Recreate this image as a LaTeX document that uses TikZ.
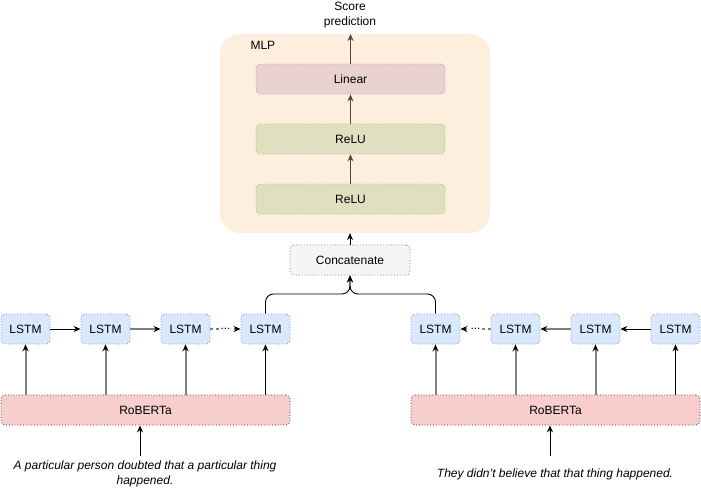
\documentclass[tikz,border=0pt]{standalone}
\usepackage{fontspec}
\setmainfont{Liberation Sans}
\usetikzlibrary{arrows.meta}

\definecolor{mlpfill}{RGB}{254,238,222}
\definecolor{linfill}{RGB}{233,209,208}
\definecolor{lindraw}{RGB}{196,140,170}
\definecolor{relufill}{RGB}{223,224,193}
\definecolor{reludraw}{RGB}{160,190,95}
\definecolor{lstmfill}{RGB}{218,232,252}
\definecolor{lstmdraw}{RGB}{108,142,191}
\definecolor{bertfill}{RGB}{248,206,204}
\definecolor{bertdraw}{RGB}{60,40,40}
\definecolor{catfill}{RGB}{245,245,245}
\definecolor{catdraw}{RGB}{110,110,110}
\definecolor{mlparrow}{RGB}{85,70,55}
\definecolor{grayarrow}{RGB}{128,128,128}

\tikzset{
  box/.style={rounded corners=4pt,dotted,thick,inner sep=0pt,align=center},
  thin arrow/.style={draw=black,line width=0.9pt,-{Stealth[length=7pt,width=6pt]}},
  thick arrow/.style={draw=grayarrow,line width=2pt,-{Stealth[length=7pt,width=6pt,color=black]}},
  mlp arrow/.style={draw=mlparrow,line width=0.9pt,-{Stealth[length=7pt,width=6pt]}},
}

\begin{document}
\begin{tikzpicture}[x=1pt,y=-1pt,font=\fontsize{12}{15}\selectfont]

      \useasboundingbox (0,0) rectangle (701,488);

      % MLP container
      \fill[mlpfill,rounded corners=20pt] (220,34) rectangle (490,233);
      \node[anchor=west] (mlp) at (247,45) {MLP};

      \node[align=center] (score) at (350,15) {Score\\prediction};
      \coordinate (top) at (350.5,34);

      \begin{scope}[every node/.style={box,minimum width=189pt,minimum height=30pt}]
        \node[fill=linfill,draw=lindraw] (lin) at (350.5,79) {Linear};
        \node[fill=relufill,draw=reludraw] (relu1) at (350.5,139) {ReLU};
        \node[fill=relufill,draw=reludraw] (relu2) at (350.5,199) {ReLU};
      \end{scope}

      \node[box,fill=catfill,draw=catdraw,minimum width=120pt,minimum height=30pt] (cat) at (350,260) {Concatenate};
      \coordinate (mlpin) at (350,233);

      \begin{scope}[every node/.style={box,fill=lstmfill,draw=lstmdraw,minimum width=49pt,minimum height=30pt}]
        \node (l1) at (25.5,329) {LSTM};
        \node (l2) at (105.5,329) {LSTM};
        \node (l3) at (185.5,329) {LSTM};
        \node (l4) at (265.5,329) {LSTM};
        \node (r1) at (435.5,329) {LSTM};
        \node (r2) at (515.5,329) {LSTM};
        \node (r3) at (595.5,329) {LSTM};
        \node (r4) at (675.5,329) {LSTM};
      \end{scope}

      \begin{scope}[every node/.style={box,fill=bertfill,draw=bertdraw,minimum width=289pt,minimum height=30pt}]
        \node (bl) at (145.5,410) {RoBERTa};
        \node (br) at (555.5,410) {RoBERTa};
      \end{scope}

      \begin{scope}[every node/.style={font=\fontsize{12}{15}\selectfont\itshape,align=center}]
        \node (sl) at (145,474) {A particular person doubted that a particular thing\\happened.};
        \node (sr) at (555,474) {They didn't believe that that thing happened.};
      \end{scope}
      \coordinate (inl) at (140,456);
      \coordinate (inr) at (550,456);

      % MLP arrows
      \draw[mlp arrow] (relu2.north) -- (relu1.south);
      \draw[mlp arrow] (relu1.north) -- (lin.south);
      \draw[mlp arrow] (lin.north) -- (top);
      \draw[thin arrow] (cat.north) -- (mlpin);

      % merge into concatenate
      \draw[thin arrow,rounded corners=8pt] (l4.north) |- (350,294) -- (cat.south);
      \draw[thin arrow,rounded corners=8pt] (r1.north) |- (350,294) -- (cat.south);

      % RoBERTa to LSTM
      \draw[thick arrow] (bl.north -| l1) -- (l1.south);
      \draw[thick arrow] (bl.north -| l2) -- (l2.south);
      \draw[thick arrow] (bl.north -| l3) -- (l3.south);
      \draw[thin arrow] (bl.north -| l4) -- (l4.south);
      \draw[thick arrow] (br.north -| r1) -- (r1.south);
      \draw[thick arrow] (br.north -| r2) -- (r2.south);
      \draw[thick arrow] (br.north -| r3) -- (r3.south);
      \draw[thin arrow] (br.north -| r4) -- (r4.south);

      % LSTM chains
      \draw[thin arrow] (l1) -- (l2);
      \draw[thick arrow] (l2) -- (l3);
      \draw[thick arrow,dashed] (l3) -- node[fill=white,inner sep=1pt] {...} (l4);
      \draw[thin arrow] (r4) -- (r3);
      \draw[thick arrow] (r3) -- (r2);
      \draw[thick arrow,dashed] (r2) -- node[fill=white,inner sep=1pt] {...} (r1);

      % sentences to RoBERTa
      \draw[thin arrow] (inl) -- (bl.south -| inl);
      \draw[thin arrow] (inr) -- (br.south -| inr);

    \end{tikzpicture}
\end{document}
